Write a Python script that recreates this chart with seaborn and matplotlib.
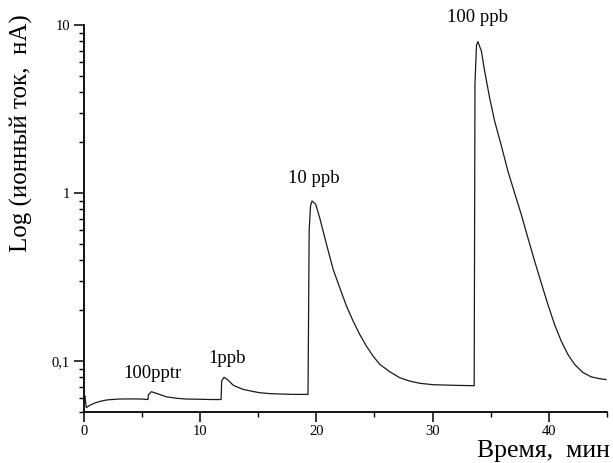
import matplotlib
matplotlib.use("Agg")
import matplotlib.pyplot as plt
import seaborn as sns
import pandas as pd
from matplotlib.ticker import FixedLocator, FixedFormatter, NullFormatter

# ---- data ----
time_min = [0.0, 0.08, 0.2, 0.5, 1.0, 1.5, 2.0, 3.0, 4.0, 5.0, 5.5,
            5.55, 5.8, 6.3, 7.1, 8.0, 8.8, 10.0, 11.0, 11.8,
            11.85, 12.05, 12.4, 12.85, 13.3, 13.7, 14.5, 15.1, 16.0, 17.0, 18.0, 19.28,
            19.38, 19.5, 19.63, 19.94, 20.29, 20.87, 21.44, 22.01, 22.59, 23.16, 23.73,
            24.30, 24.88, 25.45, 26.31, 27.17, 28.03, 28.9, 30.03, 31.5, 33.5, 33.58,
            33.65, 33.78, 33.9, 34.2, 34.48, 34.91, 35.34, 35.92, 36.48, 37.06, 37.63,
            38.2, 38.78, 39.35, 39.92, 40.5, 41.07, 41.64, 42.22, 42.93, 43.65,
            44.37, 44.95]
current_nA = [0.060, 0.062, 0.0528, 0.0545, 0.0565, 0.0578, 0.0587, 0.0594, 0.0595, 0.0594, 0.0590,
              0.0630, 0.0657, 0.0640, 0.0612, 0.0600, 0.0594, 0.0592, 0.0590, 0.0590,
              0.0760, 0.0800, 0.0770, 0.0717, 0.0695, 0.0678, 0.0660, 0.0648, 0.0640, 0.0636, 0.0633, 0.0633,
              0.60, 0.84, 0.896, 0.857, 0.711, 0.495, 0.352, 0.273, 0.2125, 0.173, 0.144,
              0.1228, 0.107, 0.0956, 0.0864, 0.0796, 0.0760, 0.0737, 0.0723, 0.0718, 0.0713, 0.0713,
              4.5, 7.6, 7.95, 7.0, 5.32, 3.69, 2.68, 1.91, 1.352, 1.0, 0.747,
              0.542, 0.394, 0.292, 0.2175, 0.165, 0.1315, 0.1096, 0.0956, 0.0855, 0.0805,
              0.0785, 0.0775]

peak_labels = ["100pptr", "1ppb", "10 ppb", "100 ppb"]
peak_label_t = [5.9, 12.3, 19.8, 33.9]
peak_label_v = [0.075, 0.0916, 1.09, 9.8]

x_ticks = [0, 10, 20, 30, 40]
y_ticks = [0.1, 1, 10]
y_tick_labels = ["0,1", "1", "10"]

df = pd.DataFrame({"t": time_min, "v": current_nA})

sns.set_theme(style="white")
plt.rcParams["font.family"] = ["Liberation Serif", "DejaVu Serif"]

fig = plt.figure(figsize=(6.13, 4.63), dpi=100)
ax = fig.add_axes([0.137, 0.111, 0.853, 0.835])

sns.lineplot(data=df, x="t", y="v", ax=ax, color="#1a1a1a", linewidth=0.9,
             sort=False, estimator=None)

ax.set_yscale("log")
ax.set_xlim(0, 45)
ax.set_ylim(0.05, 10)

for s in ["top", "right"]:
    ax.spines[s].set_visible(False)
for s in ["left", "bottom"]:
    ax.spines[s].set_color("black")
    ax.spines[s].set_linewidth(1.3)

ax.xaxis.set_major_locator(FixedLocator(x_ticks))
ax.xaxis.set_minor_locator(FixedLocator([5, 15, 25, 35, 45]))
ax.yaxis.set_major_locator(FixedLocator(y_ticks))
ax.yaxis.set_major_formatter(FixedFormatter(y_tick_labels))
minor_y = [k * 0.01 for k in range(5, 10)] + [k * 0.1 for k in range(2, 10)] + [float(k) for k in range(2, 10)]
ax.yaxis.set_minor_locator(FixedLocator(minor_y))
ax.yaxis.set_minor_formatter(NullFormatter())

ax.tick_params(axis="both", which="major", direction="out", length=7, width=1.1,
               labelsize=10.5, color="black", labelcolor="black", left=True, bottom=True)
ax.tick_params(axis="both", which="minor", direction="out", length=3.5, width=1.0,
               color="black", left=True, bottom=True)
ax.tick_params(axis="x", which="major", pad=3)
ax.tick_params(axis="y", which="major", pad=3)

ax.set_xlabel("")
ax.set_ylabel("Log (ионный ток,  нА)", fontsize=18, color="black")
ax.yaxis.set_label_coords(-0.098, 0.72)
fig.text(0.995, 0.012, "Время,  мин", ha="right", va="baseline", fontsize=18.5, color="black")

for lab, tx, vy in zip(peak_labels, peak_label_t, peak_label_v):
    ax.text(tx, vy, lab, ha="center", va="bottom", fontsize=13.5, color="black")

fig.savefig("out.png", dpi=100)
